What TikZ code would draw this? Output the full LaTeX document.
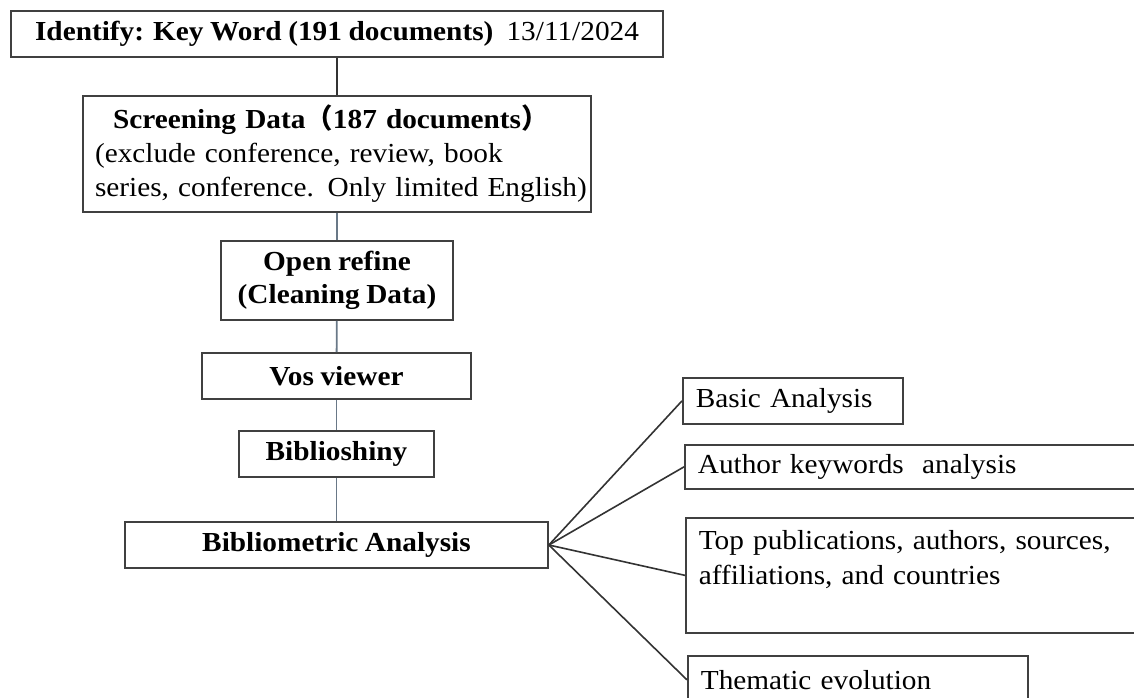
\documentclass[tikz,border=0pt]{standalone}
\usepackage{fontspec}
\setmainfont{Liberation Serif}[FakeStretch=1.065, WordSpace=0.9]
\newfontfamily\cjk{Noto Sans CJK SC}
\usetikzlibrary{positioning}

\tikzset{
  stage/.style={draw=black!75, line width=1.7pt, inner sep=0pt, align=center,
    font=\fontsize{27.5}{33}\selectfont\bfseries},
  result/.style={draw=black!75, line width=1.7pt, anchor=north west, inner xsep=13pt,
    inner ysep=0pt, align=left, font=\fontsize{27.5}{35}\selectfont},
  flow/.style={draw={rgb,255:red,105;green,120;blue,135}, line width=1.8pt},
  branch/.style={draw=black!80, line width=1.6pt}
}

\begin{document}
\begin{tikzpicture}[x=1pt, y=-1pt]
  \useasboundingbox (0,0) rectangle (1134,697);
  \clip (0,0) rectangle (1134,697);

  % main pipeline
  \node[stage, minimum width=652, minimum height=46] (identify) at (337,34)
    {Identify: Key Word (191 documents)\ \ \mdseries 13/11/2024};
  \node[stage, minimum width=508, minimum height=116, text width=500, align=left,
        font=\fontsize{27.5}{34}\selectfont\bfseries] (screen) at (337,154)
    {\hspace*{26pt}\mbox{Screening Data{\cjk （}187 documents{\cjk ）}}\\
     \mdseries\hspace*{8pt}\mbox{(exclude conference, review, book}\\
     \hspace*{8pt}\mbox{series, conference. Only limited English)}};
  \node[stage, minimum width=232, minimum height=79] (refine) at (337,280.5)
    {Open refine\\(Cleaning Data)};
  \node[stage, minimum width=269, minimum height=46] (vos) at (336.5,376) {Vos viewer};
  \node[stage, minimum width=195, minimum height=46] (shiny) at (336.5,454) {Biblioshiny};
  \node[stage, minimum width=423, minimum height=46] (biblio) at (336.5,545) {Bibliometric Analysis};

  \draw[branch] (identify) -- (screen);
  \draw[flow] (screen) -- (refine);
  \draw[flow] (refine) -- (vos);
  \draw[flow] (vos) -- (shiny);
  \draw[flow] (shiny) -- (biblio);

  % analyses
  \node[result, minimum width=220, minimum height=46, text width=194] (basic) at (682,377)
    {Basic Analysis};
  \node[result, minimum width=470, minimum height=44, text width=444] (author) at (684,444)
    {Author keywords\ \ analysis};
  \node[result, minimum width=470, minimum height=115, text width=444] (top) at (685,517)
    {Top publications, authors, sources,\\affiliations, and countries\\\mbox{}};
  \node[result, minimum width=340, minimum height=48, text width=314] (theme) at (687,655)
    {Thematic evolution};

  \foreach \n in {basic, author, top, theme}
    \draw[branch] (biblio.east) -- (\n.west);
\end{tikzpicture}
\end{document}
